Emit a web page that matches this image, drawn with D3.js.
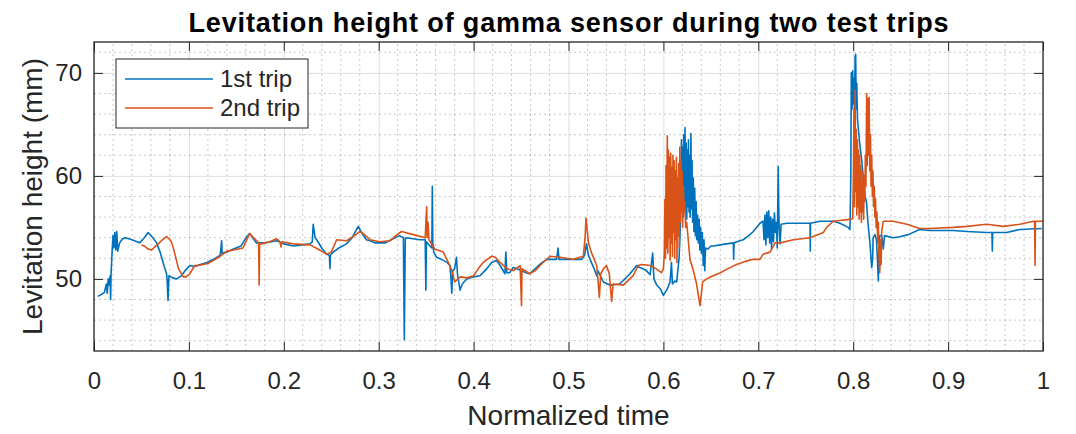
<!DOCTYPE html>
<html>
<head>
<meta charset="utf-8">
<script src="https://cdn.jsdelivr.net/npm/d3@7"></script>
<style>
  body { margin: 0; background: #fff; }
  text { font-family: "Liberation Sans", Arial, Helvetica, sans-serif; fill: #262626; }
</style>
</head>
<body>
<div id="chart"></div>
<script>
// values
const trip1Time = [0.004,0.008,0.011,0.013,0.014,0.015,0.016,0.017,0.0175,0.018,0.019,0.020,0.021,0.022,0.023,0.024,0.025,0.027,0.030,0.033,0.040,0.048,0.053,0.057,0.062,0.066,0.070,0.074,0.0765,0.077,0.078,0.079,0.083,0.087,0.092,0.096,0.101,0.106,0.112,0.119,0.126,0.133,0.1345,0.135,0.140,0.147,0.155,0.161,0.164,0.168,0.171,0.180,0.1925,0.200,0.210,0.220,0.2276,0.230,0.231,0.233,0.2347,0.240,0.245,0.248,0.2487,0.249,0.252,0.258,0.266,0.272,0.2785,0.282,0.287,0.291,0.296,0.301,0.307,0.313,0.322,0.326,0.327,0.328,0.3295,0.336,0.343,0.349,0.3497,0.3503,0.354,0.356,0.3565,0.357,0.358,0.361,0.366,0.372,0.375,0.376,0.377,0.378,0.380,0.382,0.383,0.3857,0.388,0.3927,0.400,0.4067,0.413,0.419,0.424,0.428,0.433,0.434,0.435,0.438,0.4418,0.445,0.4507,0.455,0.459,0.465,0.471,0.477,0.4875,0.489,0.490,0.497,0.505,0.514,0.517,0.519,0.521,0.5227,0.527,0.5297,0.531,0.5367,0.5437,0.554,0.5648,0.5718,0.575,0.581,0.586,0.5887,0.590,0.593,0.597,0.600,0.604,0.607,0.6085,0.6095,0.612,0.614,0.6165,0.6175,0.6185,0.619,0.6196,0.6202,0.6208,0.6214,0.622,0.6228,0.6234,0.624,0.6246,0.6252,0.6258,0.6264,0.627,0.6276,0.6282,0.629,0.6296,0.6302,0.6308,0.6315,0.6322,0.633,0.6337,0.6345,0.6352,0.636,0.6368,0.6376,0.6384,0.6392,0.640,0.641,0.642,0.6428,0.6436,0.6444,0.647,0.650,0.6526,0.660,0.6667,0.6737,0.674,0.6745,0.684,0.690,0.6947,0.7018,0.705,0.706,0.707,0.708,0.709,0.710,0.711,0.712,0.713,0.714,0.715,0.716,0.717,0.718,0.719,0.720,0.721,0.7215,0.722,0.723,0.724,0.730,0.740,0.7545,0.7548,0.755,0.765,0.779,0.786,0.7948,0.7966,0.7975,0.798,0.7988,0.7994,0.800,0.8008,0.8014,0.802,0.8026,0.8032,0.8038,0.8045,0.8055,0.807,0.809,0.8107,0.8125,0.814,0.8155,0.8177,0.8195,0.8205,0.821,0.823,0.8245,0.8255,0.8265,0.8275,0.828,0.830,0.8317,0.833,0.842,0.849,0.858,0.870,0.880,0.9055,0.920,0.9407,0.9462,0.9466,0.947,0.9617,0.9757,0.9986];
const trip1Height = [48.3,48.5,48.7,49.5,48.6,50.0,49.4,50.3,48.0,50.5,52.5,54.2,53.0,54.5,52.8,54.6,52.7,53.5,53.9,54.0,53.8,53.5,54.0,54.5,54.0,53.5,52.5,51.2,50.5,50.0,47.9,50.3,50.1,50.0,50.3,50.8,51.3,51.2,51.4,51.6,51.9,52.3,53.7,52.5,52.6,52.9,53.2,54.1,54.4,53.9,53.5,53.5,53.7,53.4,53.2,53.3,53.4,53.6,55.3,54.0,53.8,53.0,52.4,52.3,51.0,52.3,52.6,53.0,53.4,54.0,55.1,54.5,53.8,53.7,53.5,53.5,53.5,53.8,54.2,54.0,44.1,53.9,54.0,53.9,53.8,53.8,48.9,53.6,53.2,53.0,59.0,53.5,52.6,52.1,51.9,51.6,51.3,50.3,48.6,50.8,51.0,52.1,50.5,48.9,49.5,50.0,50.2,50.3,50.9,51.6,51.8,51.3,50.5,52.6,50.6,50.6,51.1,51.0,50.8,50.6,50.5,51.0,51.5,51.9,51.9,53.0,51.9,51.9,51.9,51.9,52.3,53.4,52.3,51.9,51.0,50.3,50.8,49.7,49.4,49.5,50.5,51.3,51.1,50.9,50.4,52.5,50.0,49.4,49.0,48.4,49.0,49.7,51.6,49.5,49.8,49.7,52.0,54.2,58.0,63.5,56.5,62.8,56.0,64.0,57.0,64.7,56.2,63.2,55.8,62.5,57.0,63.5,56.5,62.0,56.0,64.1,56.8,61.5,55.5,59.8,54.6,58.8,54.2,57.5,53.8,56.2,53.5,55.8,52.8,55.0,52.5,54.5,51.3,53.8,50.8,53.0,52.9,53.2,53.2,53.3,53.4,53.5,51.9,53.5,53.8,54.2,54.6,55.4,55.6,53.8,56.2,53.3,56.5,54.0,56.6,53.5,56.0,52.9,55.8,53.6,56.4,54.5,55.5,53.0,60.9,57.0,55.0,53.4,55.3,55.4,55.4,55.4,52.7,55.4,55.6,55.6,55.4,55.0,54.8,60.0,70.0,66.5,70.2,67.0,69.5,66.5,71.6,71.8,66.5,69.0,65.5,64.5,63.0,61.5,59.8,58.0,57.5,55.5,53.4,51.1,52.0,54.0,54.3,53.8,52.0,49.8,54.0,54.2,54.2,52.9,54.2,54.0,54.1,54.3,54.8,54.7,54.7,54.6,54.5,54.5,52.7,54.5,54.5,54.8,54.9];

const trip2Time = [0.050,0.053,0.057,0.0608,0.064,0.0678,0.072,0.0766,0.080,0.082,0.085,0.089,0.094,0.097,0.101,0.106,0.110,0.115,0.120,0.126,0.133,0.140,0.147,0.157,0.161,0.164,0.168,0.1715,0.1735,0.174,0.1745,0.1767,0.185,0.1925,0.196,0.197,0.198,0.210,0.2276,0.236,0.245,0.250,0.2557,0.266,0.273,0.280,0.285,0.291,0.301,0.312,0.318,0.324,0.3365,0.349,0.350,0.3506,0.351,0.352,0.353,0.359,0.368,0.375,0.378,0.380,0.386,0.393,0.400,0.405,0.410,0.419,0.423,0.428,0.435,0.442,0.449,0.4505,0.451,0.459,0.465,0.470,0.4805,0.491,0.505,0.5156,0.5175,0.5184,0.520,0.521,0.524,0.5297,0.531,0.5325,0.534,0.537,0.540,0.543,0.5455,0.547,0.5577,0.568,0.5735,0.577,0.586,0.592,0.598,0.600,0.601,0.6016,0.6022,0.6028,0.6034,0.6041,0.6047,0.6053,0.6059,0.6065,0.6071,0.6077,0.6083,0.6089,0.6095,0.6101,0.6107,0.6113,0.6119,0.6125,0.6131,0.6137,0.6143,0.6149,0.6155,0.6161,0.6167,0.6173,0.6179,0.6185,0.6191,0.6197,0.6203,0.621,0.6218,0.6225,0.6235,0.6245,0.626,0.628,0.6316,0.635,0.6386,0.6414,0.6456,0.650,0.660,0.668,0.677,0.686,0.6947,0.7018,0.705,0.7123,0.716,0.7176,0.723,0.737,0.7545,0.7685,0.772,0.779,0.7984,0.7995,0.8002,0.8008,0.8014,0.802,0.8026,0.8032,0.8038,0.8044,0.805,0.8056,0.8062,0.8068,0.8074,0.808,0.8086,0.8092,0.8098,0.8104,0.811,0.8116,0.8122,0.8128,0.8134,0.8142,0.8148,0.8155,0.816,0.8168,0.8175,0.8182,0.8188,0.8195,0.8202,0.8208,0.8215,0.8222,0.8228,0.8235,0.8242,0.825,0.8258,0.8265,0.8272,0.828,0.8288,0.8295,0.830,0.8317,0.836,0.842,0.8565,0.870,0.880,0.9055,0.920,0.9407,0.958,0.9757,0.990,0.9912,0.9916,0.992,1.000];
const trip2Height = [53.3,53.2,52.9,52.8,53.1,53.4,53.8,54.1,53.8,53.5,52.5,51.0,50.2,50.2,50.5,51.3,51.3,51.4,51.5,51.8,52.2,52.7,52.8,53.0,53.8,54.4,54.0,53.7,53.5,49.4,53.4,53.4,53.6,53.9,53.6,53.1,53.6,53.4,53.3,52.9,52.4,52.6,53.8,53.7,54.1,54.6,54.3,53.8,53.6,53.7,54.2,54.6,54.3,54.0,56.0,57.0,54.0,55.5,53.8,52.9,52.6,51.3,50.5,49.7,50.2,50.1,50.3,51.0,51.6,52.2,52.1,51.6,51.0,50.8,51.3,47.4,51.0,50.5,50.8,51.3,52.2,52.1,51.9,52.2,54.0,55.9,54.5,53.5,52.6,51.3,50.0,48.2,50.5,51.0,51.3,50.5,47.8,49.5,49.4,50.3,51.3,51.4,51.3,51.0,50.6,51.0,52.5,57.7,52.0,61.0,53.0,63.9,52.5,62.5,54.0,61.8,51.8,62.2,53.5,60.8,52.2,62.0,54.5,61.5,52.0,60.5,53.8,61.8,51.6,59.8,54.2,61.2,53.0,62.8,55.5,61.5,56.5,60.5,55.0,59.0,56.5,57.5,55.0,55.5,54.0,51.9,50.8,49.5,47.4,49.7,50.0,50.2,50.6,51.0,51.4,51.7,51.9,51.9,52.4,52.6,53.2,53.5,53.5,53.8,54.0,54.5,55.0,55.6,55.8,55.9,60.0,66.5,57.0,68.3,58.5,64.5,56.2,63.5,57.0,62.5,55.8,62.0,56.5,61.0,55.5,60.5,56.5,59.5,55.8,60.0,57.5,62.0,59.0,68.0,61.0,67.5,62.0,67.6,60.5,64.0,59.0,62.0,58.0,60.5,57.0,59.0,56.0,57.8,55.0,56.5,53.5,55.5,52.0,50.6,53.8,51.4,54.6,55.6,55.6,55.6,55.3,54.9,54.9,55.0,55.1,55.3,55.1,55.3,55.6,55.6,51.3,55.6,55.6];

const seriesNames = ["1st trip", "2nd trip"];
const seriesColors = ["#0072BD", "#D95319"];
const xTicks = [0, 0.1, 0.2, 0.3, 0.4, 0.5, 0.6, 0.7, 0.8, 0.9, 1];
const yTicks = [50, 60, 70];

const width = 1076;
const height = 434;
const margin = { top: 42, right: 33, bottom: 83, left: 94 };
const axisColor = "#262626";

const svg = d3.select("#chart")
  .append("svg")
  .attr("width", width)
  .attr("height", height);

const x = d3.scaleLinear().domain([0, 1]).range([margin.left, width - margin.right]);
const y = d3.scaleLinear().domain([43, 73]).range([height - margin.bottom, margin.top]);

const x0 = x.range()[0], x1 = x.range()[1];
const y0 = y.range()[0], y1 = y.range()[1];

//Minor grid
const xMinor = d3.range(0, 1.0001, 0.02).filter(v => Math.abs(v * 10 - Math.round(v * 10)) > 1e-6);
const yMinor = d3.range(44, 73, 2).filter(v => v % 10 !== 0);

svg.append("g").selectAll("line")
  .data(xMinor).join("line")
  .attr("x1", d => x(d)).attr("x2", d => x(d))
  .attr("y1", y0).attr("y2", y1)
  .attr("stroke", axisColor).attr("stroke-opacity", 0.25)
  .attr("stroke-dasharray", "2,3");

svg.append("g").selectAll("line")
  .data(yMinor).join("line")
  .attr("x1", x0).attr("x2", x1)
  .attr("y1", d => y(d)).attr("y2", d => y(d))
  .attr("stroke", axisColor).attr("stroke-opacity", 0.25)
  .attr("stroke-dasharray", "2,3");

//Major grid
svg.append("g")
  .attr("transform", `translate(0,${y0})`)
  .call(d3.axisBottom(x).tickValues(xTicks).tickSize(-(y0 - y1)).tickFormat(""))
  .call(g => g.select(".domain").remove())
  .call(g => g.selectAll("line").attr("stroke", axisColor).attr("stroke-opacity", 0.15));

svg.append("g")
  .attr("transform", `translate(${x0},0)`)
  .call(d3.axisLeft(y).tickValues(yTicks).tickSize(-(x1 - x0)).tickFormat(""))
  .call(g => g.select(".domain").remove())
  .call(g => g.selectAll("line").attr("stroke", axisColor).attr("stroke-opacity", 0.15));

//Lines
svg.append("clipPath").attr("id", "plot-clip")
  .append("rect")
  .attr("x", x0).attr("y", y1)
  .attr("width", x1 - x0).attr("height", y0 - y1);

const line = d3.line()
  .x(d => x(d[0]))
  .y(d => y(d[1]));

const series = [
  d3.zip(trip1Time, trip1Height),
  d3.zip(trip2Time, trip2Height)
];

svg.append("g").attr("clip-path", "url(#plot-clip)")
  .selectAll("path")
  .data(series).join("path")
  .attr("d", line)
  .attr("fill", "none")
  .attr("stroke", (d, i) => seriesColors[i])
  .attr("stroke-width", 1.6)
  .attr("stroke-linejoin", "round");

//Axes, ticks inward on all four sides
const tickLen = 9;
const styleAxis = g => {
  g.select(".domain").remove();
  g.selectAll("line").attr("stroke", axisColor).attr("stroke-width", 1);
  g.selectAll("text").attr("fill", axisColor).style("font-size", "24px");
};

svg.append("g")
  .attr("transform", `translate(0,${y0})`)
  .call(d3.axisBottom(x).tickValues(xTicks).tickSize(-tickLen).tickFormat(d3.format("")))
  .call(styleAxis)
  .call(g => g.selectAll("text").attr("dy", "0.71em").attr("y", 21));

svg.append("g")
  .attr("transform", `translate(0,${y1})`)
  .call(d3.axisTop(x).tickValues(xTicks).tickSize(-tickLen).tickFormat(""))
  .call(styleAxis);

svg.append("g")
  .attr("transform", `translate(${x0},0)`)
  .call(d3.axisLeft(y).tickValues(yTicks).tickSize(-tickLen))
  .call(styleAxis)
  .call(g => g.selectAll("text").attr("x", -12));

svg.append("g")
  .attr("transform", `translate(${x1},0)`)
  .call(d3.axisRight(y).tickValues(yTicks).tickSize(-tickLen).tickFormat(""))
  .call(styleAxis);

//Box
svg.append("rect")
  .attr("x", x0).attr("y", y1)
  .attr("width", x1 - x0).attr("height", y0 - y1)
  .attr("fill", "none")
  .attr("stroke", axisColor)
  .attr("stroke-width", 1.3);

//Title and labels
svg.append("text")
  .attr("x", (x0 + x1) / 2).attr("y", 32)
  .attr("text-anchor", "middle")
  .attr("textLength", 760)
  .attr("lengthAdjust", "spacing")
  .style("font-size", "27px").style("font-weight", "bold")
  .style("fill", "#000")
  .text("Levitation height of gamma sensor during two test trips");

svg.append("text")
  .attr("x", (x0 + x1) / 2).attr("y", 425)
  .attr("text-anchor", "middle")
  .style("font-size", "28px")
  .text("Normalized time");

svg.append("text")
  .attr("transform", `translate(42,${(y0 + y1) / 2}) rotate(-90)`)
  .attr("text-anchor", "middle")
  .style("font-size", "28px")
  .text("Levitation height (mm)");

//Legend
const legend = svg.append("g").attr("transform", "translate(116,59)");

legend.append("rect")
  .attr("width", 192).attr("height", 69)
  .attr("fill", "#fff")
  .attr("stroke", axisColor)
  .attr("stroke-width", 1);

const legendItems = legend.selectAll("g")
  .data(seriesNames).join("g")
  .attr("transform", (d, i) => `translate(0,${20 + i * 29})`);

legendItems.append("line")
  .attr("x1", 9).attr("x2", 97)
  .attr("stroke", (d, i) => seriesColors[i])
  .attr("stroke-width", 1.6);

legendItems.append("text")
  .attr("x", 104).attr("dy", "0.35em")
  .style("font-size", "24px")
  .text(d => d);
</script>
</body>
</html>
